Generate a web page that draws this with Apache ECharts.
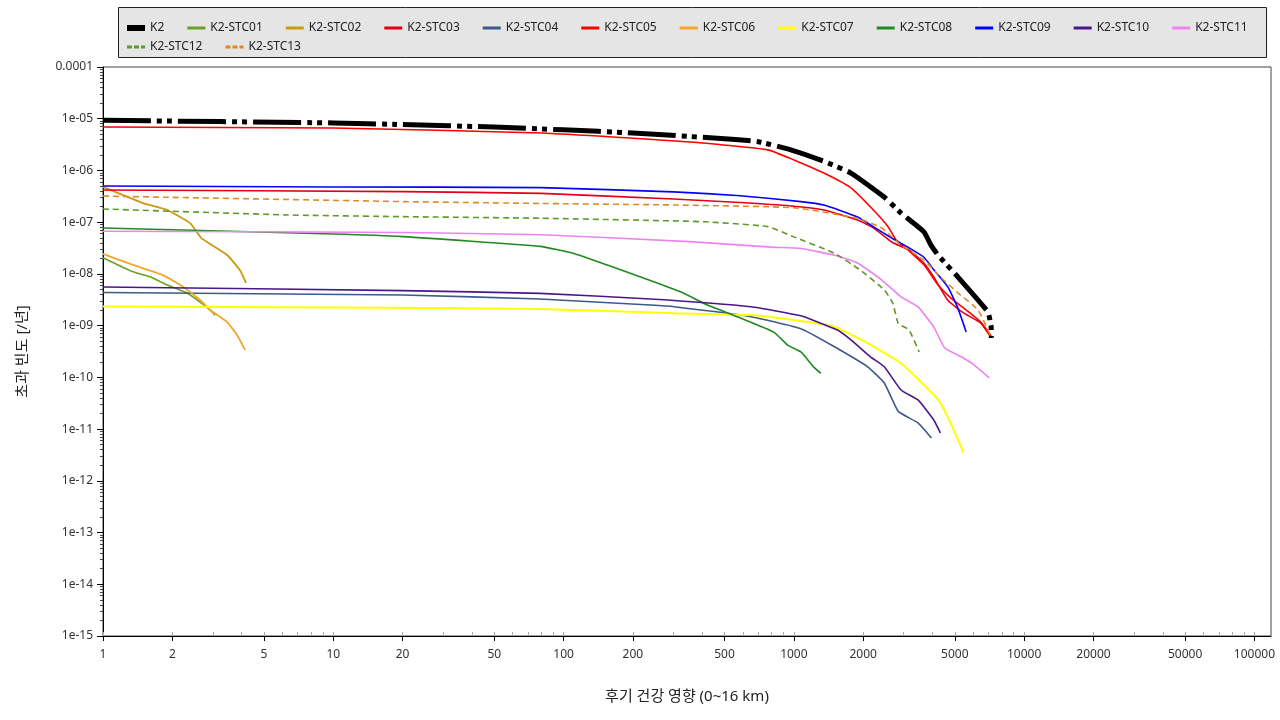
<!DOCTYPE html>
<html>
<head>
<meta charset="utf-8">
<script src="https://cdn.jsdelivr.net/npm/echarts@6/dist/echarts.min.js"></script>
<style>html,body{margin:0;padding:0;background:#fff;}#c{width:1280px;height:720px;}</style>
</head>
<body>
<div id="c"></div>
<script>
// ---- data (x = 후기 건강 영향, y = 초과 빈도 [/년]) ----
const K2 = [[1,9.3e-6],[10,8.3e-6],[20,7.7e-6],[50,6.9e-6],[100,6.1e-6],[200,5.3e-6],[500,4.1e-6],[700,3.6e-6],[970,2.5e-6],[1350,1.5e-6],[1770,8.9e-7],[2460,3.1e-7],[2920,1.5e-7],[3670,6.5e-8],[3940,3.6e-8],[4230,2.3e-8],[5160,8.7e-9],[6310,3.1e-9],[6970,1.8e-9],[7190,9.4e-10],[7200,5.8e-10]];
const STC01 = [[1,2.06e-8],[1.35,1.1e-8],[1.6,8.8e-9],[1.9,6.1e-9],[2.32,4.27e-9],[2.64,2.86e-9],[2.92,2.0e-9],[3.07,1.6e-9]];
const STC02 = [[1,4.8e-7],[1.49,2.34e-7],[1.9,1.72e-7],[2.39,9.6e-8],[2.67,4.94e-8],[2.83,4.14e-8],[3.46,2.32e-8],[3.93,1.19e-8],[4.18,6.7e-9]];
const STC03 = [[1,4.2e-7],[20,3.9e-7],[80,3.6e-7],[300,2.8e-7],[585,2.4e-7],[970,2.06e-7],[1350,1.72e-7],[1890,1.1e-7],[2220,7.7e-8],[2670,4.1e-8],[3160,2.9e-8],[3670,1.63e-8],[4050,8.7e-9],[4660,3.1e-9],[5460,1.76e-9],[6480,1.12e-9],[7190,5.8e-10]];
const STC04 = [[1,4.37e-9],[20,3.9e-9],[79,3.27e-9],[238,2.5e-9],[302,2.32e-9],[650,1.49e-9],[1073,8.7e-10],[1500,3.9e-10],[2090,1.6e-10],[2470,7.8e-11],[2840,2.2e-11],[3460,1.32e-11],[3960,6.7e-12]];
const STC05 = [[1,6.9e-6],[10,6.6e-6],[80,5.3e-6],[357,3.55e-6],[770,2.5e-6],[1000,1.6e-6],[1350,8.9e-7],[1770,4.6e-7],[2220,1.7e-7],[2570,8.1e-8],[2780,4.5e-8],[3160,2.8e-8],[3670,1.5e-8],[4230,6.1e-9],[4810,3.4e-9],[5600,2.0e-9],[6480,1.17e-9],[7190,6.3e-10]];
const STC06 = [[1,2.43e-8],[1.35,1.49e-8],[1.82,9.5e-9],[2.23,5.6e-9],[2.64,3.13e-9],[2.92,2.0e-9],[3.46,1.17e-9],[3.82,6.6e-10],[4.14,3.4e-10]];
const STC07 = [[1,2.34e-9],[10,2.25e-9],[79,2.1e-9],[302,1.74e-9],[650,1.6e-9],[1073,1.23e-9],[1500,9.5e-10],[2090,4.6e-10],[2920,1.87e-10],[3600,7.8e-11],[4230,3.7e-11],[4660,1.7e-11],[5460,3.5e-12]];
const STC08 = [[1,7.7e-8],[10,5.9e-8],[20,5.25e-8],[79,3.4e-8],[110,2.5e-8],[155,1.48e-8],[216,8.7e-9],[322,4.5e-9],[422,2.5e-9],[585,1.41e-9],[818,7.5e-10],[940,4.2e-10],[1073,3.1e-10],[1220,1.58e-10],[1310,1.2e-10]];
const STC09 = [[1,5.0e-7],[10,4.8e-7],[80,4.65e-7],[300,3.85e-7],[585,3.25e-7],[1073,2.5e-7],[1350,2.15e-7],[1890,1.26e-7],[2220,8.1e-8],[2670,4.9e-8],[3160,3.2e-8],[3670,2.1e-8],[4050,1.2e-8],[4660,5.6e-9],[5130,2.3e-9],[5600,7.5e-10]];
const STC10 = [[1,5.6e-9],[20,4.75e-9],[79,4.2e-9],[238,3.27e-9],[650,2.32e-9],[1073,1.55e-9],[1260,1.19e-9],[1540,8.3e-10],[1770,5.3e-10],[2150,2.5e-10],[2470,1.6e-10],[2920,5.7e-11],[3460,3.66e-11],[4050,1.5e-11],[4330,8.4e-12]];
const STC11 = [[1,6.7e-8],[20,6.3e-8],[80,5.7e-8],[350,4.2e-8],[800,3.3e-8],[1073,3.1e-8],[1500,2.3e-8],[1890,1.63e-8],[2410,7.6e-9],[2920,3.6e-9],[3460,2.3e-9],[4050,9.4e-10],[4520,3.7e-10],[5330,2.5e-10],[6070,1.73e-10],[7050,9.8e-11]];
const STC12 = [[1,1.8e-7],[6.3,1.38e-7],[20,1.28e-7],[80,1.19e-7],[405,1.02e-7],[770,8.2e-8],[1000,5.2e-8],[1500,2.5e-8],[1940,1.19e-8],[2470,4.9e-9],[2690,2.7e-9],[2840,1.1e-9],[3160,8.3e-10],[3500,3.1e-10]];
const STC13 = [[1,3.2e-7],[20,2.5e-7],[80,2.3e-7],[300,2.15e-7],[1000,1.9e-7],[1890,1.19e-7],[2410,7.7e-8],[2920,3.6e-8],[3670,1.86e-8],[4330,8.7e-9],[5160,4.3e-9],[6310,2.0e-9],[7190,6.0e-10]];

const seriesNames = ['K2','K2-STC01','K2-STC02','K2-STC03','K2-STC04','K2-STC05','K2-STC06','K2-STC07','K2-STC08','K2-STC09','K2-STC10','K2-STC11','K2-STC12','K2-STC13'];
const seriesData = [K2,STC01,STC02,STC03,STC04,STC05,STC06,STC07,STC08,STC09,STC10,STC11,STC12,STC13];

const xTickLabels = [1,2,5,10,20,50,100,200,500,1000,2000,5000,10000,20000,50000,100000];
const yTickLabels = [1e-15,1e-14,1e-13,1e-12,1e-11,1e-10,1e-9,1e-8,1e-7,1e-6,1e-5,1e-4];
const xDecades = [1,10,100,1000,10000,100000];
const yDecades = [1e-15,1e-14,1e-13,1e-12,1e-11,1e-10,1e-9,1e-8,1e-7,1e-6,1e-5];

// ---- styles ----
const colors = ['#000000','#6aa121','#c99a12','#e0001a','#3c5a8c','#ff0000','#f2a62c','#ffff00','#1f8a1f','#0000ff','#4b1689','#ee82ee','#5e9a28','#e08a24'];
const widths = [5,1.6,1.8,1.6,1.6,1.6,1.8,2,1.6,1.6,1.6,1.6,1.6,1.6];
const types = [[48,6,5,5,5,6],'solid','solid','solid','solid','solid','solid','solid','solid','solid','solid','solid',[6,4],[6,4]];

const ICON_SOLID = 'path://M0,0H18V3H0Z';
const ICON_THICK = 'path://M0,0H18V6H0Z';
const ICON_DASH = 'path://M0,0H5V3H0Z M7,0H12V3H7Z M14,0H18V3H14Z';
const icons = [ICON_THICK].concat(Array(11).fill(ICON_SOLID), [ICON_DASH, ICON_DASH]);

const xMinor = [];
xDecades.forEach(d => { for (let k = 1; k <= 9; k++) { const v = d * k; if (v <= 118000) xMinor.push(v); } });
const yMinor = [];
yDecades.forEach(d => { for (let k = 2; k <= 9; k++) yMinor.push(d * k); });

const FONT = "'Noto Sans', 'Noto Sans CJK KR', sans-serif";
const XMIN = 1, XMAX = 118000, YMIN = 1e-15, YMAX = 1e-4;

function yFmt(v) {
  const e = Math.round(Math.log10(v));
  if (e >= -4) return '0.0001';
  const a = -e;
  return '1e-' + (a < 10 ? '0' + a : '' + a);
}

const legendItems = seriesNames.map((n, i) => ({name: n, icon: icons[i]}));

const chart = echarts.init(document.getElementById('c'), null, {renderer: 'canvas'});
chart.setOption({
  animation: false,
  textStyle: {fontFamily: FONT},
  graphic: [{
    type: 'rect', z: 0, silent: true,
    shape: {x: 118.5, y: 7.5, width: 1148, height: 50},
    style: {fill: '#e5e5e5', stroke: '#222', lineWidth: 1}
  }],
  legend: [{
    data: legendItems.slice(0, 12),
    left: 122, top: 17, itemWidth: 18, itemHeight: 12, itemGap: 23, z: 5, symbolKeepAspect: true,
    textStyle: {fontSize: 12, color: '#222', fontFamily: FONT}
  }, {
    data: legendItems.slice(12),
    left: 122, top: 36, itemWidth: 18, itemHeight: 12, itemGap: 23, z: 5, symbolKeepAspect: true,
    textStyle: {fontSize: 12, color: '#222', fontFamily: FONT}
  }],
  grid: {left: 103, right: 9, top: 67, bottom: 84, show: true, borderColor: '#444', borderWidth: 1, backgroundColor: 'transparent'},
  xAxis: [{
    type: 'log', logBase: 10, min: XMIN, max: XMAX, position: 'bottom',
    name: '후기 건강 영향 (0~16 km)', nameLocation: 'middle', nameGap: 53,
    nameTextStyle: {fontSize: 15, color: '#222', fontFamily: FONT},
    axisLine: {show: true, lineStyle: {color: '#000', width: 1}},
    axisTick: {show: true, inside: false, length: 5, customValues: xTickLabels, lineStyle: {color: '#000'}},
    axisLabel: {customValues: xTickLabels, formatter: v => String(Math.round(v)), fontSize: 12, color: '#333', margin: 13},
    splitLine: {show: false}, minorTick: {show: false}
  }, {
    type: 'log', logBase: 10, min: XMIN, max: XMAX, position: 'bottom',
    axisLine: {show: false},
    axisTick: {show: true, inside: true, length: 4, customValues: xMinor, lineStyle: {color: '#aaa'}},
    axisLabel: {show: false}, splitLine: {show: false}
  }],
  yAxis: [{
    type: 'log', logBase: 10, min: YMIN, max: YMAX, position: 'left',
    name: '초과 빈도 [/년]', nameLocation: 'middle', nameGap: 73, nameRotate: 90,
    nameTextStyle: {fontSize: 15, color: '#222', fontFamily: FONT},
    axisLine: {show: true, lineStyle: {color: '#000', width: 1}},
    axisTick: {show: true, inside: false, length: 6, customValues: yTickLabels, lineStyle: {color: '#000'}},
    axisLabel: {customValues: yTickLabels, formatter: yFmt, fontSize: 12, color: '#333', margin: 10},
    splitLine: {show: false}, minorTick: {show: false}
  }, {
    type: 'log', logBase: 10, min: YMIN, max: YMAX, position: 'left',
    axisLine: {show: false},
    axisTick: {show: true, inside: false, length: 3, customValues: yMinor, lineStyle: {color: '#444'}},
    axisLabel: {show: false}, splitLine: {show: false}
  }],
  series: seriesNames.map((n, i) => ({
    name: n, type: 'line', xAxisIndex: 0, yAxisIndex: 0,
    data: seriesData[i], showSymbol: false, symbol: 'none', smooth: 0.15,
    lineStyle: {color: colors[i], width: widths[i], type: types[i]},
    itemStyle: {color: colors[i]},
    z: i === 0 ? 3 : 2
  }))
});
</script>
</body>
</html>
